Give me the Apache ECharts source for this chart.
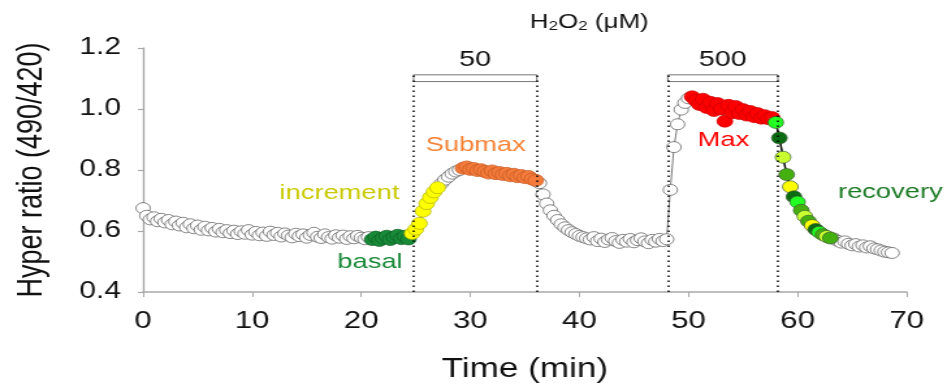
<!DOCTYPE html>
<html>
<head>
<meta charset="utf-8">
<title>HyPer ratio time course</title>
<script src="https://cdn.jsdelivr.net/npm/echarts@6/dist/echarts.min.js"></script>
<style>
  html, body { margin: 0; padding: 0; background: #fff; }
  #wrap { width: 947px; height: 389px; overflow: hidden; }
  /* the original figure is stretched sideways, so draw narrower and widen it */
  #chart { width: 728px; height: 389px; transform: scaleX(1.3008); transform-origin: 0 0; }
</style>
</head>
<body>
<div id="wrap"><div id="chart"></div></div>
<script>
// sampling interval of the recording, in minutes (one frame every 20 s)
var stepMin = 1 / 3;

// ratio values, frame by frame, split by phase
var whitePre = [
  0.675, 0.650, 0.638, 0.645, 0.632, 0.640, 0.628, 0.636, 0.622, 0.631,
  0.618, 0.627, 0.612, 0.622, 0.609, 0.618, 0.604, 0.614, 0.602, 0.610,
  0.598, 0.607, 0.596, 0.603, 0.593, 0.601, 0.590, 0.599, 0.591, 0.603,
  0.588, 0.597, 0.586, 0.595, 0.584, 0.598, 0.587, 0.594, 0.582, 0.592,
  0.585, 0.579, 0.591, 0.583, 0.589, 0.578, 0.587, 0.594, 0.581, 0.577,
  0.589, 0.580, 0.575, 0.586, 0.578, 0.585, 0.574, 0.583, 0.576, 0.584,
  0.578, 0.573, 0.580
];
var basal = [0.572, 0.580, 0.569, 0.577, 0.583, 0.572, 0.580, 0.586, 0.575, 0.583, 0.574];
var increment = [0.592, 0.606, 0.625, 0.665, 0.690, 0.710, 0.728, 0.742];
var whiteRise = [0.755, 0.768, 0.778, 0.788, 0.795, 0.800];
var submax = [
  0.806, 0.810, 0.802, 0.805, 0.798, 0.801, 0.795, 0.790, 0.797, 0.788,
  0.792, 0.785, 0.789, 0.781, 0.786, 0.778, 0.782, 0.775, 0.779, 0.770, 0.766
];
var whiteWash = [
  0.757, 0.720, 0.690, 0.668, 0.650, 0.636, 0.622, 0.612, 0.603, 0.596,
  0.590, 0.584, 0.580, 0.576, 0.572, 0.580, 0.567, 0.575, 0.564, 0.572,
  0.577, 0.567, 0.561, 0.571, 0.565, 0.574, 0.563, 0.570, 0.576, 0.566,
  0.560, 0.571, 0.565, 0.574, 0.567, 0.573,
  0.735, 0.875, 0.950, 0.998, 1.020, 1.035
];
var maxResp = [
  1.040, 1.028, 1.015, 1.032, 1.005, 1.022, 0.995, 1.018, 1.000, 0.960,
  1.012, 0.988, 1.008, 0.985, 0.998, 0.980, 0.992, 0.975, 0.985, 0.970,
  0.978, 0.968, 0.972
];
var recovery = [
  0.956, 0.905, 0.842, 0.785, 0.745, 0.712, 0.695, 0.668,
  0.648, 0.632, 0.618, 0.605, 0.596, 0.588, 0.582, 0.577
];
var recoveryColors = [
  '#22ff22', '#0a6b12', '#c8ff30', '#44b010', '#ffff00', '#0a6b12', '#22ff22', '#44b010',
  '#c8ff30', '#44b010', '#ffff00', '#0a6b12', '#22ff22', '#44b010', '#c8ff30', '#44b010'
];
var whiteTail = [
  0.575, 0.568, 0.562, 0.566, 0.558, 0.553, 0.557, 0.549, 0.553, 0.546,
  0.550, 0.543, 0.540, 0.536, 0.532, 0.530, 0.528
];

// H2O2 additions (min)
var pulses = [
  { name: '50', start: 24.8, end: 36.1 },
  { name: '500', start: 48.1, end: 58.2 }
];

// phase annotations [text, time, ratio, colour]
var notes = [
  ['increment', 18.0, 0.724, '#c9c900'],
  ['basal', 20.8, 0.498, '#1a8a3a'],
  ['Submax', 30.5, 0.882, '#f58235'],
  ['Max', 53.2, 0.899, '#ff0000'],
  ['recovery', 68.5, 0.728, '#1b7a24']
];

var xTicks = { min: 0, max: 70, step: 10 };
var yTicks = { min: 0.4, max: 1.2, step: 0.2 };

var font = 'Liberation Sans, Arial, Helvetica, sans-serif';

// put the phases back on one time line
var segments = [
  { key: 'white', vals: whitePre },
  { key: 'basal', vals: basal },
  { key: 'increment', vals: increment },
  { key: 'white', vals: whiteRise },
  { key: 'submax', vals: submax },
  { key: 'white', vals: whiteWash },
  { key: 'max', vals: maxResp },
  { key: 'recovery', vals: recovery },
  { key: 'white', vals: whiteTail }
];
var all = [];
var groups = { white: [], basal: [], increment: [], submax: [], max: [], recovery: [] };
var frame = 0;
segments.forEach(function (seg) {
  seg.vals.forEach(function (v, i) {
    var p = [frame * stepMin, v];
    all.push(p);
    if (seg.key === 'recovery') {
      groups.recovery.push({ value: p, itemStyle: { color: recoveryColors[i] } });
    } else {
      groups[seg.key].push(p);
    }
    frame++;
  });
});
// black line through the recovery phase (last Max point -> first tail point)
var recStart = whitePre.length + basal.length + increment.length + whiteRise.length +
  submax.length + whiteWash.length + maxResp.length - 1;
var recLine = all.slice(recStart, recStart + recovery.length + 2);

function dots(name, data, fill, border, size) {
  return {
    name: name,
    type: 'scatter',
    data: data,
    symbol: 'circle',
    symbolSize: size,
    z: 4,
    itemStyle: { color: fill, borderColor: border, borderWidth: 0.7, opacity: 1 }
  };
}

var bracketLow = 1.09, bracketHigh = 1.112;

var myChart = echarts.init(document.getElementById('chart'));
var option = {
  animation: false,
  grid: { left: 110, right: 31, top: 48, bottom: 97 },
  xAxis: {
    type: 'value',
    min: xTicks.min,
    max: xTicks.max,
    interval: xTicks.step,
    name: 'Time (min)',
    nameLocation: 'middle',
    nameGap: 64,
    nameTextStyle: { fontSize: 27, color: '#111', fontFamily: font },
    axisLine: { show: true, lineStyle: { color: '#a8a8a8', width: 1.5 } },
    axisTick: { show: true, length: 5, lineStyle: { color: '#a8a8a8', width: 1 } },
    axisLabel: { fontSize: 24, color: '#111', fontFamily: font, margin: 17 },
    splitLine: { show: false }
  },
  yAxis: {
    type: 'value',
    min: yTicks.min,
    max: yTicks.max,
    interval: yTicks.step,
    name: 'Hyper ratio (490/420)',
    nameLocation: 'middle',
    nameGap: 72,
    nameTextStyle: { fontSize: 27, color: '#111', fontFamily: font },
    axisLine: { show: true, lineStyle: { color: '#a8a8a8', width: 1.4 } },
    axisTick: { show: true, length: 4, lineStyle: { color: '#a8a8a8', width: 1.2 } },
    axisLabel: {
      fontSize: 23, color: '#111', fontFamily: font, margin: 17,
      formatter: function (v) { return v.toFixed(1); }
    },
    splitLine: { show: false }
  },
  graphic: [{
    type: 'text',
    x: 453,
    y: 22,
    style: {
      text: 'H{sub|2}O{sub|2} (\u03bcM)',
      font: '20px ' + font,
      fill: '#111',
      align: 'center',
      verticalAlign: 'middle',
      rich: {
        sub: { fontSize: 13, fontFamily: font, fill: '#111', padding: [9, 0, 0, 0] }
      }
    }
  }],
  series: [
    {
      name: 'trace',
      type: 'line',
      data: all,
      showSymbol: false,
      z: 1,
      silent: true,
      lineStyle: { color: '#777', width: 1 },
      markLine: {
        silent: true,
        symbol: 'none',
        label: { show: false },
        lineStyle: { color: '#000', width: 1.5, type: [1.5, 3.5] },
        data: pulses.reduce(function (acc, p) {
          acc.push([{ coord: [p.start, yTicks.min] }, { coord: [p.start, bracketHigh] }]);
          acc.push([{ coord: [p.end, yTicks.min] }, { coord: [p.end, bracketHigh] }]);
          return acc;
        }, [])
      },
      markArea: {
        silent: true,
        itemStyle: { color: '#fff', borderColor: '#777', borderWidth: 1 },
        label: {
          show: true, position: 'top', distance: 3,
          fontSize: 22, color: '#111', fontFamily: font
        },
        data: pulses.map(function (p) {
          return [{ name: p.name, coord: [p.start, bracketLow] }, { coord: [p.end, bracketHigh] }];
        })
      },
      markPoint: {
        silent: true,
        symbol: 'circle',
        symbolSize: 0,
        data: notes.map(function (n) {
          return {
            name: n[0],
            coord: [n[1], n[2]],
            label: {
              show: true, position: 'inside', formatter: n[0],
              color: n[3], fontSize: 21, fontFamily: font
            }
          };
        })
      }
    },
    {
      name: 'recovery line',
      type: 'line',
      data: recLine,
      showSymbol: false,
      z: 2,
      silent: true,
      lineStyle: { color: '#111', width: 1.5 }
    },
    dots('white', groups.white, '#ffffff', '#555555', 11),
    dots('basal', groups.basal, '#188a38', '#0f5e25', 12),
    dots('increment', groups.increment, '#ffff00', '#b0b000', 12),
    dots('submax', groups.submax, '#f47b3b', '#c45a22', 12),
    dots('max', groups.max, '#ff0000', '#c80000', 12),
    dots('recovery', groups.recovery, '#44b010', '#3a5a30', 12)
  ]
};
myChart.setOption(option);
</script>
</body>
</html>
